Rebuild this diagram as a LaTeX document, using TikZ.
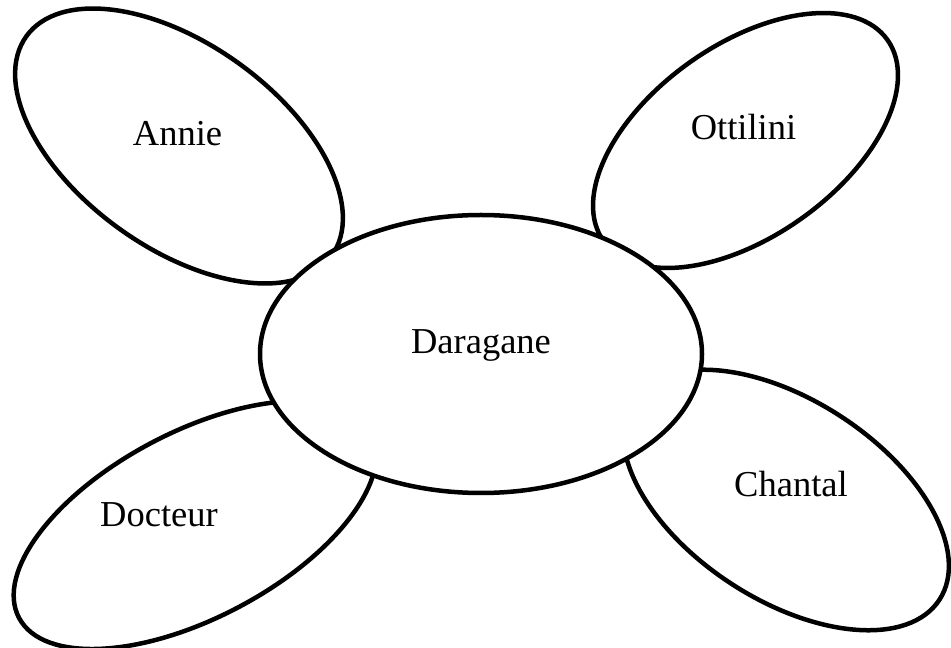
\documentclass[tikz,border=0pt]{standalone}
\usepackage{fontspec}
\setmainfont{Liberation Serif}
\usetikzlibrary{shapes.geometric}
\begin{document}
\begin{tikzpicture}[x=1pt,y=1pt,
  petal/.style={ellipse, draw=black, line width=4.5pt, fill=white, inner sep=0pt},
  lbl/.style={anchor=base, inner sep=0pt, font=\fontsize{36.5}{40}\selectfont}]
\useasboundingbox (0,0) rectangle (951,648);
% petals
\node[petal, minimum width=376, minimum height=204, rotate=-35.7] (annieShape) at (179,502) {};
\node[petal, minimum width=348, minimum height=192, rotate=35.3] (ottiliniShape) at (745.5,507.5) {};
\node[petal, minimum width=398, minimum height=186, rotate=27.8] (docteurShape) at (195,123) {};
\node[petal, minimum width=366, minimum height=200, rotate=-33] (chantalShape) at (786,148) {};
% centre
\node[petal, minimum width=442, minimum height=278] (daraganeShape) at (481,294) {};
% labels
\node[lbl] (daragane) at (481,294) {Daragane};
\node[lbl] (annie) at (177.5,502) {Annie};
\node[lbl] (ottilini) at (743.5,508) {Ottilini};
\node[lbl] (docteur) at (159,121.5) {Docteur};
\node[lbl] (chantal) at (791,151) {Chantal};
\end{tikzpicture}
\end{document}
